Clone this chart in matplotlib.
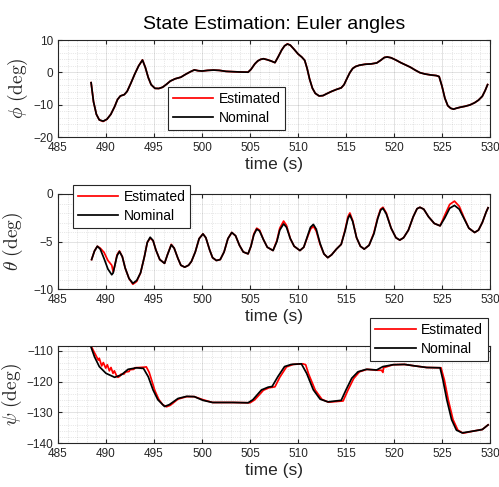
import matplotlib
matplotlib.use("Agg")
import matplotlib.pyplot as plt
from matplotlib.ticker import MultipleLocator

# ---- data ----
t_phi = [488.45, 488.7, 489.0, 489.3, 489.7, 490.1, 490.5, 490.9, 491.2, 491.5, 491.9, 492.2,
         492.6, 493.0, 493.4, 493.8, 494.1, 494.4, 494.7, 495.1, 495.5, 495.9, 496.3, 496.7,
         497.2, 497.8, 498.3, 498.8, 499.2, 499.6, 500.0, 500.6, 501.2, 501.8, 502.5, 503.2,
         504.0, 504.8, 505.1, 505.5, 505.8, 506.1, 506.4, 506.8, 507.2, 507.6, 507.9, 508.3,
         508.6, 508.9, 509.2, 509.6, 510.0, 510.4, 510.7, 510.95, 511.2, 511.5, 511.8, 512.2,
         512.6, 513.0, 513.5, 514.0, 514.5, 514.8, 515.1, 515.4, 515.7, 516.0, 516.4, 517.0,
         517.6, 518.2, 518.6, 519.0, 519.3, 519.7, 520.2, 520.7, 521.2, 521.7, 522.2, 522.7,
         523.2, 523.8, 524.4, 524.7, 525.0, 525.3, 525.6, 525.9, 526.2, 526.5, 526.9, 527.4,
         527.9, 528.4, 528.8, 529.2, 529.5, 529.75]
phi_nom = [-3.2, -9.1, -13.0, -14.7, -15.1, -14.5, -13.0, -10.6, -8.4, -7.3, -6.9, -5.9,
           -3.3, -0.5, 2.0, 3.8, 1.5, -1.6, -3.8, -4.95, -5.0, -4.6, -3.7, -2.7,
           -2.0, -1.5, -0.6, 0.2, 0.75, 0.5, 0.4, 0.6, 0.7, 0.6, 0.3, 0.2,
           0.1, 0.05, 0.9, 2.6, 3.5, 4.0, 4.2, 3.9, 3.5, 3.0, 4.6, 6.9,
           8.2, 8.75, 8.4, 7.1, 5.7, 4.7, 3.7, 1.2, -2.0, -4.9, -6.5, -7.3,
           -7.2, -6.6, -5.9, -5.3, -4.8, -3.8, -1.9, -0.1, 1.2, 1.8, 2.2, 2.5,
           2.6, 2.9, 3.7, 4.6, 4.75, 4.5, 3.8, 3.0, 2.3, 1.6, 0.7, -0.1,
           -0.5, -0.8, -1.0, -1.3, -4.3, -8.0, -10.3, -11.1, -11.4, -11.1, -10.8, -10.5,
           -10.1, -9.4, -8.6, -7.4, -5.6, -3.8]
phi_est = [-3.2, -9.1, -13.0, -14.7, -15.2, -14.5, -13.0, -10.6, -8.4, -7.3, -6.9, -5.9,
           -3.3, -0.5, 2.0, 3.85, 1.5, -1.6, -3.8, -4.95, -5.0, -4.6, -3.7, -2.7,
           -2.0, -1.5, -0.6, 0.2, 0.75, 0.5, 0.4, 0.6, 0.7, 0.6, 0.3, 0.2,
           0.1, 0.05, 0.9, 2.6, 3.5, 4.0, 4.2, 3.9, 3.5, 3.0, 4.6, 6.9,
           8.2, 8.8, 8.4, 7.1, 5.7, 4.7, 3.7, 1.2, -2.0, -4.9, -6.5, -7.3,
           -7.2, -6.6, -5.9, -5.3, -4.8, -3.8, -1.9, -0.1, 1.2, 1.8, 2.2, 2.5,
           2.6, 2.9, 3.7, 4.6, 4.75, 4.5, 3.8, 3.0, 2.3, 1.6, 0.7, -0.1,
           -0.5, -0.8, -1.0, -1.3, -4.3, -8.0, -10.3, -11.1, -11.4, -11.1, -10.8, -10.5,
           -10.1, -9.4, -8.6, -7.4, -5.6, -3.8]

t_theta = [488.5, 488.8, 489.1, 489.4, 489.8, 490.2, 490.6, 490.75, 490.9, 491.15, 491.4, 491.7,
           492.0, 492.4, 492.8, 493.2, 493.6, 494.0, 494.3, 494.6, 494.9, 495.2, 495.6, 496.1,
           496.4, 496.8, 497.1, 497.5, 497.8, 498.2, 498.6, 498.9, 499.3, 499.7, 500.1, 500.4,
           500.8, 501.1, 501.5, 501.9, 502.3, 502.7, 503.1, 503.5, 503.9, 504.3, 504.8, 505.1,
           505.4, 505.7, 506.0, 506.4, 506.8, 507.4, 507.8, 508.1, 508.5, 508.8, 509.2, 509.6,
           510.2, 510.6, 511.0, 511.3, 511.6, 511.9, 512.3, 512.7, 513.1, 513.5, 514.0, 514.5,
           514.9, 515.2, 515.4, 515.7, 516.1, 516.5, 516.9, 517.4, 517.9, 518.3, 518.6, 518.85,
           519.2, 519.7, 520.2, 520.6, 521.0, 521.5, 522.0, 522.4, 522.7, 523.1, 523.6, 524.2,
           524.8, 525.3, 525.8, 526.3, 526.8, 527.3, 527.8, 528.4, 528.8, 529.2, 529.6, 529.8]
theta_nom = [-6.9, -6.0, -5.5, -5.8, -6.8, -7.9, -8.5, -8.3, -7.6, -6.5, -6.05, -6.6,
             -7.8, -8.9, -9.4, -9.1, -8.3, -6.6, -5.1, -4.55, -4.9, -5.9, -6.9, -7.3,
             -6.4, -5.35, -5.7, -6.8, -7.5, -7.7, -7.5, -7.1, -6.1, -4.7, -4.2, -4.6,
             -5.9, -6.7, -7.0, -6.9, -6.1, -4.7, -4.05, -4.4, -5.4, -6.1, -6.3, -5.5,
             -4.3, -3.7, -3.9, -4.8, -5.6, -5.95, -5.0, -3.8, -3.15, -3.5, -4.7, -5.5,
             -5.95, -5.6, -4.4, -3.5, -3.2, -3.7, -5.2, -6.3, -6.7, -6.4, -5.8, -5.3,
             -3.9, -2.6, -2.2, -2.9, -4.6, -5.5, -5.8, -5.4, -4.2, -2.6, -1.7, -1.5,
             -2.1, -3.6, -4.6, -4.85, -4.6, -3.8, -2.4, -1.55, -1.4, -1.6, -2.4, -3.1,
             -3.35, -2.5, -1.5, -1.2, -1.6, -2.6, -3.6, -4.05, -3.8, -3.0, -1.9, -1.45]
theta_est = [-6.9, -6.0, -5.5, -5.7, -6.15, -7.0, -7.5, -8.2, -7.6, -6.4, -6.0, -6.6,
             -7.8, -8.9, -9.5, -9.2, -8.3, -6.6, -5.1, -4.65, -4.9, -5.9, -6.9, -7.3,
             -6.4, -5.3, -5.7, -6.8, -7.5, -7.7, -7.5, -7.1, -6.1, -4.7, -4.2, -4.6,
             -5.9, -6.7, -7.0, -6.9, -6.1, -4.7, -4.05, -4.4, -5.4, -6.1, -6.3, -5.5,
             -4.2, -3.6, -3.8, -4.8, -5.6, -5.95, -4.9, -3.6, -2.85, -3.3, -4.7, -5.5,
             -5.95, -5.6, -4.5, -3.7, -3.4, -3.9, -5.3, -6.3, -6.7, -6.4, -5.8, -5.3,
             -3.8, -2.4, -2.0, -2.8, -4.6, -5.5, -5.8, -5.4, -4.1, -2.5, -1.6, -1.4,
             -2.0, -3.6, -4.6, -4.85, -4.6, -3.8, -2.4, -1.55, -1.4, -1.6, -2.4, -3.1,
             -3.35, -2.2, -1.1, -0.75, -1.3, -2.5, -3.6, -4.05, -3.8, -3.0, -1.9, -1.45]

t_psi_nom = [488.4, 488.8, 489.3, 490.0, 490.9, 491.6, 492.3, 493.2, 493.9, 494.4, 494.9, 495.4,
             496.1, 496.6, 497.5, 498.4, 499.2, 500.1, 501.1, 503.2, 504.8, 505.3, 506.2, 506.9,
             507.3, 507.9, 508.6, 509.3, 510.35, 510.9, 511.6, 512.3, 513.1, 514.5, 515.0, 515.6,
             516.25, 517.1, 518.2, 518.85, 519.9, 521.1, 522.2, 523.4, 524.8, 525.1, 525.5, 526.0,
             526.5, 527.1, 528.3, 529.2, 529.8]
psi_nom = [-108.4, -111.9, -115.1, -117.3, -118.6, -117.8, -116.0, -115.5, -115.7, -118.4, -122.7, -125.9,
           -128.1, -127.5, -125.5, -124.8, -124.9, -126.1, -126.8, -126.8, -126.9, -125.9, -122.7, -121.8,
           -121.6, -118.4, -115.1, -114.4, -114.2, -117.3, -122.7, -125.7, -126.6, -126.1, -122.7, -118.9,
           -116.8, -116.0, -116.2, -115.1, -114.5, -114.4, -114.9, -115.4, -115.5, -119.5, -125.9, -132.4,
           -135.8, -136.7, -136.1, -135.6, -134.1]

t_psi_est = [488.45, 488.7, 489.0, 489.2, 489.3, 489.55, 489.72, 489.97, 490.14, 490.35, 490.52, 490.73,
             490.87, 491.1, 491.25, 491.45, 491.55, 491.9, 492.0, 492.4, 492.5, 492.9, 493.0, 494.0,
             494.2, 494.5, 494.8, 495.1, 495.5, 495.9, 496.3, 496.7, 497.5, 498.4, 499.2, 500.1,
             501.1, 503.2, 505.0, 505.5, 506.4, 507.0, 507.6, 508.1, 508.8, 509.5, 510.5, 510.8,
             511.1, 511.8, 512.5, 513.2, 514.7, 515.2, 515.8, 516.4, 517.2, 518.3, 518.7, 518.85,
             518.9, 519.9, 521.1, 522.2, 523.4, 524.9, 525.25, 525.65, 526.15, 526.65, 527.2, 528.3,
             529.2, 529.8]
psi_est = [-108.4, -110.0, -111.8, -113.0, -112.4, -114.9, -113.8, -115.6, -114.5, -116.5, -115.4, -117.3,
           -116.5, -118.1, -118.6, -118.2, -117.6, -117.5, -116.9, -116.7, -116.1, -116.0, -115.5, -115.3,
           -115.2, -117.0, -120.0, -123.0, -125.8, -127.5, -128.2, -127.7, -125.7, -124.9, -124.9, -125.9,
           -126.8, -126.8, -126.9, -125.9, -122.8, -122.0, -121.7, -118.6, -115.2, -114.4, -114.2, -114.5,
           -117.5, -122.8, -125.8, -126.7, -126.3, -122.8, -119.0, -116.8, -116.0, -116.3, -116.3, -117.0,
           -115.5, -114.5, -114.4, -114.9, -115.4, -115.5, -119.5, -125.9, -132.4, -135.8, -136.8, -136.1,
           -135.6, -134.1]

x_ticks = [485, 490, 495, 500, 505, 510, 515, 520, 525, 530]

plt.rcParams['font.family'] = ['Liberation Sans', 'DejaVu Sans']
plt.rcParams['mathtext.fontset'] = 'cm'

W, H = 499, 487
fig = plt.figure(figsize=(W / 100, H / 100), dpi=100)

dark = '#262626'
lw = 1.25


def make_axes(top_px, bot_px):
    ax = fig.add_axes([58 / W, 1 - bot_px / H, 432 / W, (bot_px - top_px) / H])
    for s in ax.spines.values():
        s.set_color(dark)
        s.set_linewidth(0.8)
    ax.tick_params(which='both', direction='in', top=True, right=True, colors=dark,
                   labelsize=8.5, length=3)
    ax.tick_params(which='minor', length=0)
    ax.grid(True, which='major', color=dark, alpha=0.15, linewidth=0.6)
    ax.grid(True, which='minor', color=dark, alpha=0.2, linewidth=0.5, linestyle=':')
    ax.set_xlim(485, 530)
    ax.set_xticks(x_ticks)
    ax.xaxis.set_minor_locator(MultipleLocator(1))
    ax.set_xlabel('time (s)', fontsize=12.5, color=dark, labelpad=2)
    return ax


def add_legend(ax, loc, anchor):
    leg = ax.legend(['Estimated', 'Nominal'], loc=loc, bbox_to_anchor=anchor, borderaxespad=0,
                    fontsize=10, fancybox=False, framealpha=1, edgecolor=dark,
                    handlelength=2.9, handletextpad=0.4, borderpad=0.35, labelspacing=0.35)
    leg.get_frame().set_linewidth(0.8)
    return leg


# phi
ax1 = make_axes(40, 137)
ax1.plot(t_phi, phi_est, color='r', lw=lw)
ax1.plot(t_phi, phi_nom, color='k', lw=lw)
ax1.set_ylim(-20, 10)
ax1.set_yticks([-20, -10, 0, 10])
ax1.yaxis.set_minor_locator(MultipleLocator(2))
ax1.set_ylabel(r'$\phi\ (\mathrm{deg})$', fontsize=14, color=dark, labelpad=2)
ax1.set_title('State Estimation: Euler angles', fontsize=14, color='k', pad=8)
add_legend(ax1, 'lower left', (0.2546, 0.072))

# theta
ax2 = make_axes(194, 289)
ax2.plot(t_theta, theta_est, color='r', lw=lw)
ax2.plot(t_theta, theta_nom, color='k', lw=lw)
ax2.set_ylim(-10, 0)
ax2.set_yticks([-10, -5, 0])
ax2.yaxis.set_minor_locator(MultipleLocator(1))
ax2.set_ylabel(r'$\theta\ (\mathrm{deg})$', fontsize=14, color=dark, labelpad=6)
add_legend(ax2, 'upper left', (0.0347, 1.095))

# psi
ax3 = make_axes(346, 443)
ax3.plot(t_psi_est, psi_est, color='r', lw=lw)
ax3.plot(t_psi_nom, psi_nom, color='k', lw=lw)
ax3.set_ylim(-140, -108.4)
ax3.set_yticks([-140, -130, -120, -110])
ax3.yaxis.set_minor_locator(MultipleLocator(2))
ax3.set_ylabel(r'$\psi\ (\mathrm{deg})$', fontsize=14, color=dark, labelpad=2)
add_legend(ax3, 'upper right', (0.995, 1.289))

fig.savefig('out.png', dpi=100)
